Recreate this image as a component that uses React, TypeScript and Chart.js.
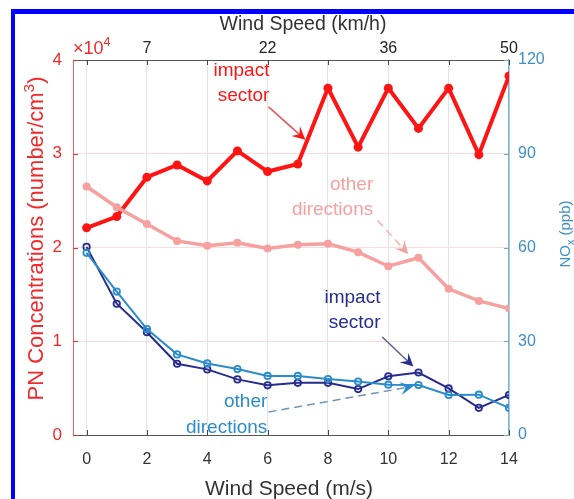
import { useEffect, useRef } from 'react';
import { Chart, registerables } from 'chart.js';

Chart.register(...registerables);

// Wind speed bins (m/s)
const windSpeed = [0, 1, 2, 3, 4, 5, 6, 7, 8, 9, 10, 11, 12, 13, 14];
// Particle number concentrations (×10^4 number/cm³)
const pnImpact = [2.21, 2.33, 2.75, 2.88, 2.71, 3.03, 2.81, 2.89, 3.7, 3.07, 3.7, 3.27, 3.7, 2.99, 3.83];
const pnOther = [2.65, 2.43, 2.25, 2.07, 2.02, 2.05, 1.99, 2.03, 2.04, 1.95, 1.8, 1.89, 1.56, 1.43, 1.35];
// NOx (ppb)
const noxImpact = [60.2, 42.0, 32.9, 22.8, 21.0, 17.8, 15.9, 16.7, 16.7, 14.7, 18.8, 20.0, 14.9, 8.7, 12.8];
const noxOther = [58.3, 45.9, 33.9, 25.8, 22.9, 21.1, 18.9, 18.9, 17.9, 17.1, 16.1, 16.0, 12.8, 12.9, 8.7];

const bottomTicks = [0, 2, 4, 6, 8, 10, 12, 14];
const topTickLabels: Record<number, string> = { 2: '7', 6: '22', 10: '36', 14: '50' };
const pnTicks = [0, 1, 2, 3, 4];
const noxTicks = [0, 30, 60, 90, 120];

const RED = '#ff1414';
const PINK = '#f6a0a0';
const NAVY = '#262d8e';
const BLUE = '#2a8ccc';
const AXIS_BLUE = '#3d8fc6';
const AXIS_RED = '#f02a2a';
const FONT = 'Arial, "Liberation Sans", sans-serif';

type Callout = {
  lines: string[];
  color: string;
  textX: number;
  textY: number[];
  from: [number, number];
  to: [number, number];
  lineColor: string;
  dashed: boolean;
};

// Text callouts with arrows, placed in (m/s, ×10^4) data units
const callouts: Callout[] = [
  { lines: ['impact', 'sector'], color: RED, textX: 6.06, textY: [3.89, 3.62], from: [6.03, 3.5], to: [7.25, 3.15], lineColor: '#e8505a', dashed: false },
  { lines: ['other', 'directions'], color: PINK, textX: 9.5, textY: [2.67, 2.4], from: [9.64, 2.29], to: [10.66, 1.93], lineColor: '#f2b3b6', dashed: true },
  { lines: ['impact', 'sector'], color: NAVY, textX: 9.74, textY: [1.46, 1.195], from: [9.8, 1.045], to: [10.83, 0.73], lineColor: '#5a5f8a', dashed: false },
  { lines: ['other', 'directions'], color: BLUE, textX: 5.99, textY: [0.352, 0.075], from: [6.03, 0.245], to: [10.83, 0.52], lineColor: '#6f97b4', dashed: true },
];

type Seg = { t: string; sup?: boolean; sub?: boolean };

function richWidth(ctx: CanvasRenderingContext2D, segs: Seg[], size: number) {
  let w = 0;
  for (const s of segs) {
    ctx.font = `${s.sup || s.sub ? size * 0.7 : size}px ${FONT}`;
    w += ctx.measureText(s.t).width;
  }
  return w;
}

function drawRich(ctx: CanvasRenderingContext2D, segs: Seg[], x: number, y: number, size: number) {
  let cx = x;
  ctx.textBaseline = 'alphabetic';
  ctx.textAlign = 'left';
  for (const s of segs) {
    const small = s.sup || s.sub;
    ctx.font = `${small ? size * 0.7 : size}px ${FONT}`;
    const dy = s.sup ? -size * 0.42 : s.sub ? size * 0.25 : 0;
    ctx.fillText(s.t, cx, y + dy);
    cx += ctx.measureText(s.t).width;
  }
}

function arrowHead(ctx: CanvasRenderingContext2D, x0: number, y0: number, x1: number, y1: number, color: string) {
  const a = Math.atan2(y1 - y0, x1 - x0);
  ctx.save();
  ctx.translate(x1, y1);
  ctx.rotate(a);
  ctx.beginPath();
  ctx.moveTo(0, 0);
  ctx.lineTo(-13, -6.5);
  ctx.lineTo(-8, 0);
  ctx.lineTo(-13, 6.5);
  ctx.closePath();
  ctx.fillStyle = color;
  ctx.fill();
  ctx.restore();
}

const decorations = {
  id: 'decorations',
  beforeDraw(chart: Chart) {
    const ctx = chart.ctx;
    ctx.save();
    ctx.fillStyle = '#ffffff';
    ctx.fillRect(0, 0, chart.width, chart.height);
    ctx.restore();
  },
  afterDatasetsDraw(chart: Chart) {
    const ctx = chart.ctx;
    const xs = chart.scales.x;
    const ys = chart.scales.y;
    const y2 = chart.scales.y2;
    const { left, right, top, bottom } = chart.chartArea;
    ctx.save();

    // inward tick marks
    ctx.lineWidth = 1;
    ctx.strokeStyle = '#444';
    for (const v of bottomTicks) {
      const px = Math.round(xs.getPixelForValue(v)) + 0.5;
      ctx.beginPath();
      ctx.moveTo(px, bottom);
      ctx.lineTo(px, bottom - 5);
      ctx.moveTo(px, top);
      ctx.lineTo(px, top + 5);
      ctx.stroke();
    }
    ctx.strokeStyle = AXIS_RED;
    for (const v of pnTicks) {
      const py = Math.round(ys.getPixelForValue(v)) + 0.5;
      ctx.beginPath();
      ctx.moveTo(left, py);
      ctx.lineTo(left + 5, py);
      ctx.stroke();
    }
    ctx.strokeStyle = '#6fa9d6';
    for (const v of noxTicks) {
      const py = Math.round(y2.getPixelForValue(v)) + 0.5;
      ctx.beginPath();
      ctx.moveTo(right, py);
      ctx.lineTo(right - 5, py);
      ctx.stroke();
    }

    // callouts
    for (const c of callouts) {
      const fx = xs.getPixelForValue(c.from[0]);
      const fy = ys.getPixelForValue(c.from[1]);
      const tx = xs.getPixelForValue(c.to[0]);
      const ty = ys.getPixelForValue(c.to[1]);
      const a = Math.atan2(ty - fy, tx - fx);
      ctx.strokeStyle = c.lineColor;
      ctx.lineWidth = 1.5;
      ctx.setLineDash(c.dashed ? [8, 5] : []);
      ctx.beginPath();
      ctx.moveTo(fx, fy);
      ctx.lineTo(tx - 8 * Math.cos(a), ty - 8 * Math.sin(a));
      ctx.stroke();
      ctx.setLineDash([]);
      arrowHead(ctx, fx, fy, tx, ty, c.color);
      ctx.fillStyle = c.color;
      ctx.font = `19px ${FONT}`;
      ctx.textAlign = 'right';
      ctx.textBaseline = 'middle';
      const rx = xs.getPixelForValue(c.textX);
      c.lines.forEach((t, i) => ctx.fillText(t, rx, ys.getPixelForValue(c.textY[i])));
    }
    ctx.restore();
  },
  afterDraw(chart: Chart) {
    const ctx = chart.ctx;
    const { left } = chart.chartArea;
    ctx.save();

    // frame edges
    ctx.fillStyle = '#0000ff';
    ctx.fillRect(11, 9, 4, chart.height - 9);
    ctx.fillRect(11, 9, chart.width - 11, 5);

    // bottom title
    ctx.fillStyle = '#333';
    ctx.font = `21px ${FONT}`;
    ctx.textAlign = 'center';
    ctx.textBaseline = 'alphabetic';
    ctx.fillText('Wind Speed (m/s)', 289, 495);

    // top title
    ctx.font = `19.5px ${FONT}`;
    ctx.fillText('Wind Speed (km/h)', 303, 30);

    // exponent marker
    ctx.fillStyle = AXIS_RED;
    drawRich(ctx, [{ t: '×10' }, { t: '4', sup: true }], left, 54, 18);

    // left title (rotated)
    const leftSegs: Seg[] = [{ t: 'PN Concentrations (number/cm' }, { t: '3', sup: true }, { t: ')' }];
    const lw = richWidth(ctx, leftSegs, 22);
    ctx.save();
    ctx.translate(43, 238.5);
    ctx.rotate(-Math.PI / 2);
    ctx.fillStyle = AXIS_RED;
    drawRich(ctx, leftSegs, -lw / 2, 0, 22);
    ctx.restore();

    // right title (rotated)
    const rightSegs: Seg[] = [{ t: 'NO' }, { t: 'x', sub: true }, { t: ' (ppb)' }];
    const rw = richWidth(ctx, rightSegs, 15);
    ctx.save();
    ctx.translate(570, 234);
    ctx.rotate(-Math.PI / 2);
    ctx.fillStyle = AXIS_BLUE;
    drawRich(ctx, rightSegs, -rw / 2, 0, 15);
    ctx.restore();

    ctx.restore();
  },
};

export default function App() {
  const ref = useRef<HTMLCanvasElement | null>(null);

  useEffect(() => {
    if (!ref.current) return;
    const chart = new Chart(ref.current, {
      type: 'line',
      data: {
        labels: windSpeed,
        datasets: [
          {
            label: 'PN impact sector',
            data: windSpeed.map((x, i) => ({ x, y: pnImpact[i] })),
            yAxisID: 'y',
            borderColor: RED,
            backgroundColor: RED,
            borderWidth: 4,
            pointRadius: 4.5,
            pointBorderWidth: 0,
            order: 2,
          },
          {
            label: 'PN other directions',
            data: windSpeed.map((x, i) => ({ x, y: pnOther[i] })),
            yAxisID: 'y',
            borderColor: PINK,
            backgroundColor: PINK,
            borderWidth: 3.5,
            pointRadius: 4,
            pointBorderWidth: 0,
            order: 1,
          },
          {
            label: 'NOx impact sector',
            data: windSpeed.map((x, i) => ({ x, y: noxImpact[i] })),
            yAxisID: 'y2',
            borderColor: NAVY,
            backgroundColor: 'rgba(255,255,255,0)',
            borderWidth: 2,
            pointRadius: 3.2,
            pointBorderWidth: 1.8,
            order: 4,
          },
          {
            label: 'NOx other directions',
            data: windSpeed.map((x, i) => ({ x, y: noxOther[i] })),
            yAxisID: 'y2',
            borderColor: BLUE,
            backgroundColor: 'rgba(255,255,255,0)',
            borderWidth: 2,
            pointRadius: 3.2,
            pointBorderWidth: 1.8,
            order: 3,
          },
        ],
      },
      options: {
        animation: false,
        responsive: false,
        maintainAspectRatio: false,
        layout: { padding: 0 },
        plugins: { legend: { display: false }, tooltip: { enabled: false } },
        elements: { line: { tension: 0 } },
        scales: {
          x: {
            type: 'linear',
            position: 'bottom',
            min: -0.45,
            max: 14,
            afterBuildTicks: (s: any) => {
              s.ticks = bottomTicks.map((v) => ({ value: v }));
            },
            afterFit: (s: any) => {
              s.height = 64;
            },
            ticks: { color: '#333', font: { size: 16, family: FONT }, padding: 15, maxRotation: 0 },
            grid: { color: '#e4e4e4', drawTicks: false },
            border: { color: '#555', width: 1 },
          },
          x2: {
            type: 'linear',
            position: 'top',
            min: -0.45,
            max: 14,
            afterBuildTicks: (s: any) => {
              s.ticks = bottomTicks.map((v) => ({ value: v }));
            },
            afterFit: (s: any) => {
              s.height = 60;
            },
            ticks: {
              color: '#222',
              font: { size: 16, family: FONT },
              padding: 2,
              maxRotation: 0,
              autoSkip: false,
              callback: (v: any) => topTickLabels[v as number] ?? '',
            },
            grid: { drawOnChartArea: false, drawTicks: false },
            border: { color: '#555', width: 1 },
          },
          y: {
            type: 'linear',
            position: 'left',
            min: 0,
            max: 4,
            afterBuildTicks: (s: any) => {
              s.ticks = pnTicks.map((v) => ({ value: v }));
            },
            afterFit: (s: any) => {
              s.width = 73;
            },
            ticks: { color: AXIS_RED, font: { size: 17, family: FONT }, padding: 11 },
            grid: { color: '#f7dede', drawTicks: false },
            border: { color: '#ec5c5c', width: 1 },
          },
          y2: {
            type: 'linear',
            position: 'right',
            min: 0,
            max: 120,
            afterBuildTicks: (s: any) => {
              s.ticks = noxTicks.map((v) => ({ value: v }));
            },
            afterFit: (s: any) => {
              s.width = 65;
            },
            ticks: { color: AXIS_BLUE, font: { size: 16, family: FONT }, padding: 9 },
            grid: { drawOnChartArea: false, drawTicks: false },
            border: { color: '#7ab2dc', width: 1.5 },
          },
        },
      },
      plugins: [decorations],
    });
    return () => chart.destroy();
  }, []);

  return (
    <div style={{ position: 'fixed', left: 0, top: 0, width: 574, height: 499 }}>
      <canvas ref={ref} width={574} height={499} style={{ display: 'block', width: 574, height: 499 }} />
    </div>
  );
}
